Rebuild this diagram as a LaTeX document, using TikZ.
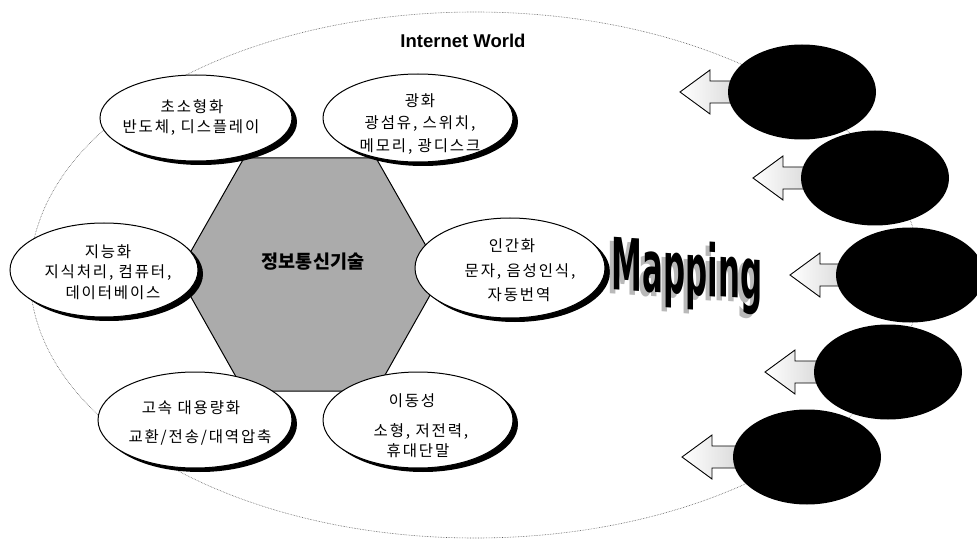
\documentclass[tikz,border=0pt]{standalone}
\usepackage{fontspec}
\usepackage{graphicx}
\setmainfont{Liberation Sans}
\newfontfamily\kr[LetterSpace=12]{Noto Sans CJK KR}
\newfontfamily\krb{Noto Sans CJK KR}
\newfontfamily\mapfont{DejaVu Sans}
\usetikzlibrary{shadows,shapes.geometric}
\begin{document}
\begin{tikzpicture}[x=1pt,y=-1pt,
  bub/.style={ellipse, draw=black, line width=1pt, fill=white, inner sep=0pt,
    drop shadow={shadow xshift=5pt, shadow yshift=-4pt, fill=black, opacity=1}},
  blk/.style={ellipse, fill=black, inner sep=0pt, minimum width=148pt, minimum height=95pt},
  kt/.style={font=\kr\fontsize{15.5}{18}\selectfont, inner sep=0pt},
  barrow/.style={draw=black, line width=0.9pt, left color=white, right color=gray!40},
  maptxt/.style={inner sep=0pt, yslant=-0.07}
]
\useasboundingbox (0,0) rectangle (977,540);
\clip (0,0) rectangle (977,540);
\fill[white] (0,0) rectangle (977,540);

% big dotted world ellipse
\draw[gray!70!black, densely dotted, line width=0.6pt] (475,275) ellipse (445 and 263);

% hexagon
\draw[fill=black!33, line width=1pt] (178,274) -- (244,158) -- (376,158) -- (442,274) -- (376,391) -- (244,391) -- cycle;

% bubbles
\node[bub, minimum width=192pt, minimum height=86pt] (b1) at (196,118) {};
\node[bub, minimum width=190pt, minimum height=88pt] (b2) at (418,118) {};
\node[bub, minimum width=188pt, minimum height=94pt] (b3) at (104,270) {};
\node[bub, minimum width=190pt, minimum height=100pt] (b4) at (510,268) {};
\node[bub, minimum width=194pt, minimum height=96pt] (b5) at (195,420) {};
\node[bub, minimum width=190pt, minimum height=96pt] (b6) at (418,420) {};

% hexagon label
\node[font=\krb\bfseries\fontsize{18.5}{20}\selectfont] (hex) at (313,262) {정보통신기술};

% bubble texts
\node[kt] (t1a) at (192,107) {초소형화};
\node[kt] (t1b) at (191,128) {반도체, 디스플레이};
\node[kt] (t2a) at (420,101) {광화};
\node[kt] (t2b) at (420,124) {광섬유, 스위치,};
\node[kt] (t2c) at (420,147) {메모리, 광디스크};
\node[kt] (t3a) at (108,252) {지능화};
\node[kt] (t3b) at (108,273) {지식처리, 컴퓨터,};
\node[kt] (t3c) at (113,293) {데이터베이스};
\node[kt] (t4a) at (512,246) {인간화};
\node[kt] (t4b) at (520,272) {문자, 음성인식,};
\node[kt] (t4c) at (519,295) {자동번역};
\node[kt] (t5a) at (191,408) {고속 대용량화};
\node[kt] (t5b) at (200,437) {교환/전송/대역압축};
\node[kt] (t6a) at (412,401) {이동성};
\node[kt] (t6b) at (421,431) {소형, 저전력,};
\node[kt] (t6c) at (418,451) {휴대단말};

% title
\node[font=\bfseries\fontsize{18.5}{20}\selectfont] (title) at (463,41) {Internet World};

% Mapping
\node[maptxt, text=gray!55] (mapsh) at (683,279)
  {\scalebox{0.43}[1]{\mapfont\bfseries\fontsize{72}{72}\selectfont Mapping}};
\node[maptxt, text=black] (map) at (687,275)
  {\scalebox{0.43}[1]{\mapfont\bfseries\fontsize{72}{72}\selectfont Mapping}};

% block arrows (tip x, tip y, shaft end x)
\foreach \tx/\ty/\ex in {680/92/760, 753/178/830, 790/275/865, 765/372/840, 682/457/760}{
  \path[barrow] (\tx,\ty) -- (\tx+30,\ty-22) -- (\tx+30,\ty-11) -- (\ex,\ty-11)
     -- (\ex,\ty+11) -- (\tx+30,\ty+11) -- (\tx+30,\ty+22) -- cycle;
}

% black ellipses
\node[blk] (e1) at (802,92) {};
\node[blk] (e2) at (875,178) {};
\node[blk] (e3) at (910,275) {};
\node[blk] (e4) at (888,372) {};
\node[blk] (e5) at (807,457) {};
\end{tikzpicture}
\end{document}
